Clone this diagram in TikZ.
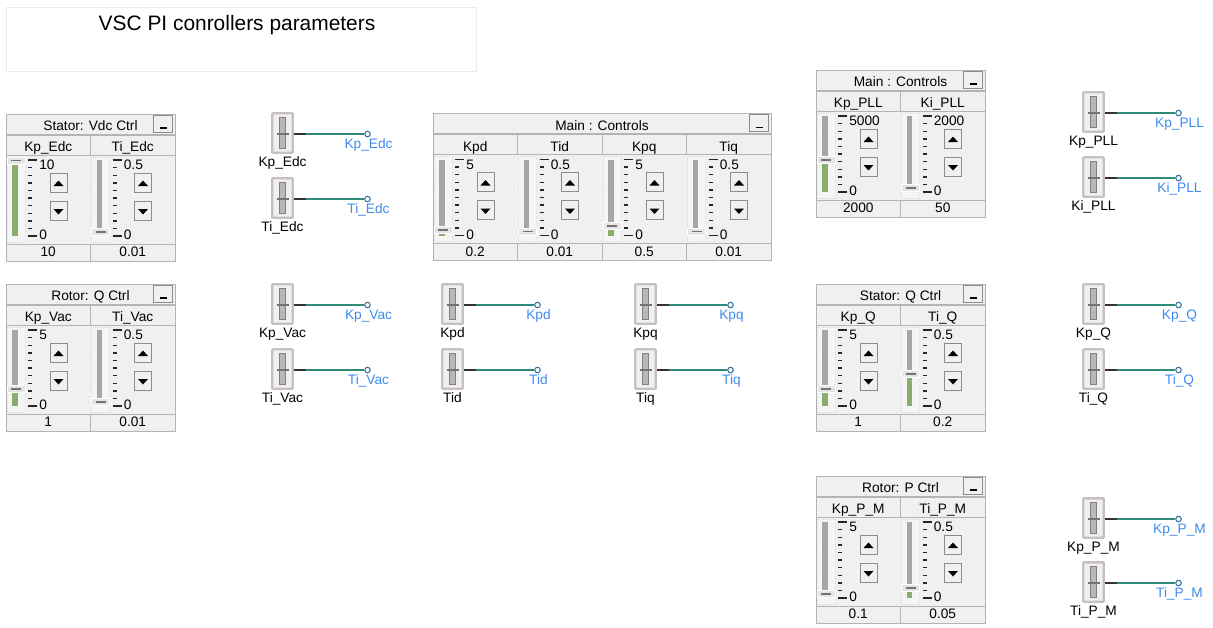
\documentclass[tikz,border=0pt]{standalone}
\usepackage{fontspec}
\setmainfont{Liberation Sans}
\definecolor{panelbg}{HTML}{F0F0F0}
\definecolor{cellline}{HTML}{B4B4B4}
\definecolor{barfill}{HTML}{A6A6A6}
\definecolor{barlevel}{HTML}{8AAD6E}
\definecolor{wirecol}{HTML}{2E8B78}
\definecolor{sigblue}{HTML}{3D8BF0}
\definecolor{portcol}{HTML}{2F6FA0}
\definecolor{boxedge}{HTML}{C8C0BC}
\tikzset{
  panel/.style={draw=black!30, fill=panelbg, line width=0.4pt},
  cell/.style={draw=cellline, fill=panelbg, line width=0.4pt},
  btn/.style={draw=black!45, fill=panelbg, line width=0.4pt},
  lbl/.style={font=\fontsize{7.8}{9}\selectfont, inner sep=0pt, anchor=base},
  trough/.style={draw=black!15, densely dotted, fill=white!96!black},
  scaletick/.style={line width=0.8pt, black!85},
  thumb/.style={draw=white, fill=black!10, line width=0.4pt},
  srcbox/.style={draw=boxedge, line width=1.4pt, fill=panelbg, minimum width=0.41cm,
    minimum height=0.79cm, inner sep=0pt, rounded corners=0.5pt},
  port/.style={circle, draw=portcol, line width=0.6pt, inner sep=0pt, minimum size=0.11cm},
  wire/.style={wirecol, line width=0.7pt},
  stub/.style={black!80, line width=0.7pt}
}
% panel frame with title bar
\newcommand{\ctrlpanel}[5]{%
  \pgfmathsetmacro{\panelw}{84.5*#4}
  \draw[panel] (#2,#3) rectangle ++(\panelw,147);
  \draw[cell] (#2,#3) rectangle ++(\panelw,20);
  \node[lbl] (#1) at (#2+\panelw/2,#3+16.5) {#5};
  \draw[btn] (#2+\panelw-22,#3+1) rectangle ++(19,17);
  \draw[line width=1.1pt] (#2+\panelw-15.5,#3+14) -- ++(7,0);
}
% one slider column of a panel
\newcommand{\ctrlcol}[7]{%
  \draw[cell] (#2,#3+21) rectangle ++(84.5,20);
  \node[lbl] (#1-head) at (#2+42.25,#3+37.5) {#4};
  \draw[cell] (#2,#3+130) rectangle ++(84.5,17);
  \node[lbl] (#1-val) at (#2+42.25,#3+142.7) {#6};
  \draw[trough] (#2+1,#3+43) rectangle (#2+19,#3+128);
  \fill[barfill] (#2+6,#3+46) rectangle (#2+11.5,#3+122);
  \fill[barlevel] (#2+6,#3+119.5-73*#7) rectangle (#2+11.5,#3+122);
  \draw[thumb] (#2+1,#3+116-73*#7) rectangle (#2+19,#3+123-73*#7);
  \draw[black!55, line width=1pt] (#2+5,#3+119.5-73*#7) -- ++(10,0);
  \foreach \k in {1,...,9} \draw[scaletick] (#2+22,#3+46+7.6*\k) -- ++(4,0);
  \draw[scaletick] (#2+22,#3+46) -- ++(9,0);
  \draw[scaletick] (#2+22,#3+122) -- ++(9,0);
  \node[lbl, anchor=base west] (#1-max) at (#2+33,#3+55.5) {#5};
  \node[lbl, anchor=base west] (#1-zero) at (#2+33,#3+125.5) {0};
  \draw[btn] (#2+44,#3+59) rectangle ++(17,19);
  \fill (#2+52.5,#3+66.5) -- (#2+57.5,#3+72) -- (#2+47.5,#3+72) -- cycle;
  \draw[btn] (#2+44,#3+87) rectangle ++(17,19);
  \fill (#2+47.5,#3+95) -- (#2+57.5,#3+95) -- (#2+52.5,#3+100.5) -- cycle;
}
% slider source with its output signal
\newcommand{\slidersrc}[4]{%
  \node[srcbox] (#1) at (#2,#3-1) {};
  \filldraw[fill=black!28, draw=black!50, line width=0.4pt] (#2-3,#3-17) rectangle (#2+3,#3+14);
  \draw[black!55, line width=1.1pt] (#2-6,#3) -- (#2+6,#3);
  \node[lbl] (#1-name) at (#2,#3+32.7) {#4};
  \node[port] (#1-out) at (#2+85,#3) {};
  \node[lbl, text=sigblue] (#1-sig) at (#2+86,#3+14.3) {#4};
  \coordinate (#1-j) at (#2+23,#3);
  \draw[stub] (#1.east |- #1-out) -- (#1-j);
  \draw[wire] (#1-j) -- (#1-out);
}

\begin{document}
\begin{tikzpicture}[x=0.02cm, y=-0.02cm]
\useasboundingbox (0,0) rectangle (1213,627);
\draw[draw=black!8, fill=white] (6,7) rectangle (476,71);
\node[font=\fontsize{11.9}{14}\selectfont, inner sep=0pt, anchor=base] (title) at (237,30) {VSC PI conrollers parameters};

\ctrlpanel{vdc}{6}{114}{2}{Stator: Vdc Ctrl}
\ctrlcol{vdc1}{6}{114}{Kp\_Edc}{10}{10}{1}
\ctrlcol{vdc2}{90.5}{114}{Ti\_Edc}{0.5}{0.01}{0.02}

\ctrlpanel{rq}{6}{284}{2}{Rotor: Q Ctrl}
\ctrlcol{rq1}{6}{284}{Kp\_Vac}{5}{1}{0.2}
\ctrlcol{rq2}{90.5}{284}{Ti\_Vac}{0.5}{0.01}{0.02}

\ctrlpanel{dq}{433}{113.5}{4}{Main : Controls}
\ctrlcol{dq1}{433}{113.5}{Kpd}{5}{0.2}{0.04}
\ctrlcol{dq2}{517.5}{113.5}{Tid}{0.5}{0.01}{0.02}
\ctrlcol{dq3}{602}{113.5}{Kpq}{5}{0.5}{0.1}
\ctrlcol{dq4}{686.5}{113.5}{Tiq}{0.5}{0.01}{0.02}

\ctrlpanel{pll}{816}{70}{2}{Main : Controls}
\ctrlcol{pll1}{816}{70}{Kp\_PLL}{5000}{2000}{0.4}
\ctrlcol{pll2}{900.5}{70}{Ki\_PLL}{2000}{50}{0.025}

\ctrlpanel{sq}{816}{284}{2}{Stator: Q Ctrl}
\ctrlcol{sq1}{816}{284}{Kp\_Q}{5}{1}{0.2}
\ctrlcol{sq2}{900.5}{284}{Ti\_Q}{0.5}{0.2}{0.4}

\ctrlpanel{rp}{816}{476}{2}{Rotor: P Ctrl}
\ctrlcol{rp1}{816}{476}{Kp\_P\_M}{5}{0.1}{0.02}
\ctrlcol{rp2}{900.5}{476}{Ti\_P\_M}{0.5}{0.05}{0.1}

\slidersrc{kpedc}{282.5}{134}{Kp\_Edc}
\slidersrc{tiedc}{282.5}{199}{Ti\_Edc}
\slidersrc{kpvac}{282.5}{305}{Kp\_Vac}
\slidersrc{tivac}{282.5}{370}{Ti\_Vac}
\slidersrc{kpd}{452.5}{305}{Kpd}
\slidersrc{tid}{452.5}{370}{Tid}
\slidersrc{kpq}{645.5}{305}{Kpq}
\slidersrc{tiq}{645.5}{370}{Tiq}
\slidersrc{kppll}{1093.5}{113}{Kp\_PLL}
\slidersrc{kipll}{1093.5}{178}{Ki\_PLL}
\slidersrc{kpq2}{1093.5}{305}{Kp\_Q}
\slidersrc{tiq2}{1093.5}{370}{Ti\_Q}
\slidersrc{kppm}{1093.5}{519}{Kp\_P\_M}
\slidersrc{tipm}{1093.5}{583}{Ti\_P\_M}
\end{tikzpicture}
\end{document}
